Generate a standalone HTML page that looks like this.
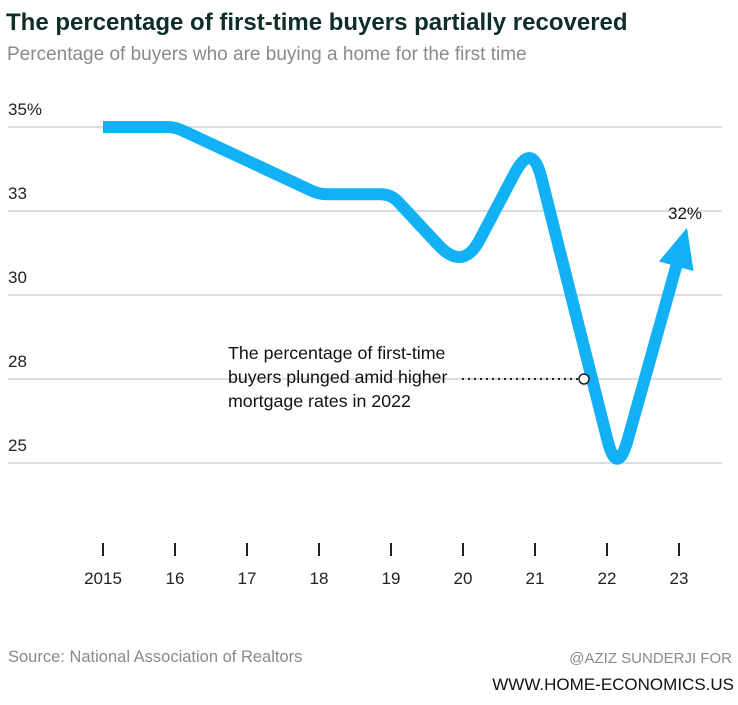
<!DOCTYPE html>
<html><head><meta charset="utf-8"><style>
body{margin:0;background:#fff;font-family:"Liberation Sans",sans-serif;}
</style></head><body>
<svg width="738" height="700" viewBox="0 0 738 700" id="c">
<text x="6" y="30" font-size="24" font-weight="bold" fill="#0f2e2a">The percentage of first-time buyers partially recovered</text>
<text x="7" y="60" font-size="19" fill="#8a8a8a">Percentage of buyers who are buying a home for the first time</text>
<g id="grid"></g><g id="xaxis"></g><g id="plot"></g>
<text x="8" y="662" font-size="16.5" fill="#8a8a8a">Source: National Association of Realtors</text>
<text x="732" y="663" text-anchor="end" font-size="15" fill="#8a8a8a">@AZIZ SUNDERJI FOR</text>
<text x="734" y="690" text-anchor="end" font-size="17" fill="#111">WWW.HOME-ECONOMICS.US</text>
</svg>
<script>
const years=["2015","16","17","18","19","20","21","22","23"];
const values=[35,35,34,33,33,30.7,34.6,24.55,32];
const yTicks=[35,32.5,30,27.5,25];
const yTickLabels=["35%","33","30","28","25"];
const NS="http://www.w3.org/2000/svg";
const X=i=>103+i*72;
const Y=v=>127+(35-v)*33.6;
function mk(t,a,p){const e=document.createElementNS(NS,t);for(const k in a)e.setAttribute(k,a[k]);p.appendChild(e);return e;}
const grid=document.getElementById('grid'),xa=document.getElementById('xaxis'),plot=document.getElementById('plot');
yTicks.forEach((v,i)=>{
 const l=mk('line',{x1:8,x2:722,y1:Y(v),y2:Y(v),stroke:'#dcdcdc','stroke-width':2},grid);
 
 
 const t=mk('text',{x:8,y:Y(v)-12,'font-size':17,fill:'#222'},grid);t.textContent=yTickLabels[i];
 
 
});
years.forEach((y,i)=>{
 const l=mk('line',{x1:X(i),x2:X(i),y1:543,y2:556,stroke:'#222','stroke-width':2},xa);
 
 
 const t=mk('text',{x:X(i),y:584,'font-size':17,fill:'#222','text-anchor':'middle'},xa);t.textContent=y;
 
 
});
const n=values.length;
const radii=[0,8,8,8,10,36,38,40,0];
const pts=values.map((v,i)=>[X(i)+(i==n-1?8:0)+(i==n-2?10:0)+(i==n-3?-3:0),Y(v)]);
const tip=pts[n-1],prev=pts[n-2];
let dx=tip[0]-prev[0],dy=tip[1]-prev[1];const L=Math.hypot(dx,dy);dx/=L;dy/=L;
const head=40,hw=18;
const base=[tip[0]-dx*head,tip[1]-dy*head];
const P=pts.slice();P[n-1]=[base[0]+dx*4,base[1]+dy*4];
let d=`M${P[0][0]},${P[0][1]}`;
for(let i=1;i<n-1;i++){
 const a=P[i-1],b=P[i],c=P[i+1];
 const l1=Math.hypot(b[0]-a[0],b[1]-a[1]),l2=Math.hypot(c[0]-b[0],c[1]-b[1]);
 const r=Math.min(radii[i],l1/2,l2/2);
 const s=[b[0]-(b[0]-a[0])/l1*r,b[1]-(b[1]-a[1])/l1*r];
 const e=[b[0]+(c[0]-b[0])/l2*r,b[1]+(c[1]-b[1])/l2*r];
 d+=` L${s[0]},${s[1]} C${(s[0]+2*b[0])/3},${(s[1]+2*b[1])/3} ${(e[0]+2*b[0])/3},${(e[1]+2*b[1])/3} ${e[0]},${e[1]}`;
}
d+=` L${P[n-1][0]},${P[n-1][1]}`;
const path=mk('path',{d:d,fill:'none',stroke:'#12b1f6','stroke-width':12,'stroke-linejoin':'round'},plot);


const ah=mk('polygon',{points:`${tip[0]},${tip[1]} ${base[0]-dy*hw},${base[1]+dx*hw} ${base[0]+dy*hw},${base[1]-dx*hw}`,fill:'#12b1f6'},plot);


const lab=mk('text',{x:685,y:Y(values[n-1])-9,'font-size':17,fill:'#111','text-anchor':'middle'},plot);lab.textContent=values[n-1]+'%';


const ly=Y(27.5);
const dl=mk('line',{x1:462,x2:580,y1:ly,y2:ly,stroke:'#222','stroke-width':2,'stroke-dasharray':'2,4'},plot);


const dot=mk('circle',{cx:584,cy:ly,r:5,fill:'#fff',stroke:'#222','stroke-width':1.5},plot);


["The percentage of first-time","buyers plunged amid higher","mortgage rates in 2022"].forEach((s,i)=>{
 const t=mk('text',{x:228,y:359+i*24,'font-size':17.8,fill:'#111'},plot);t.textContent=s;
 
 
});
</script>
</body></html>
